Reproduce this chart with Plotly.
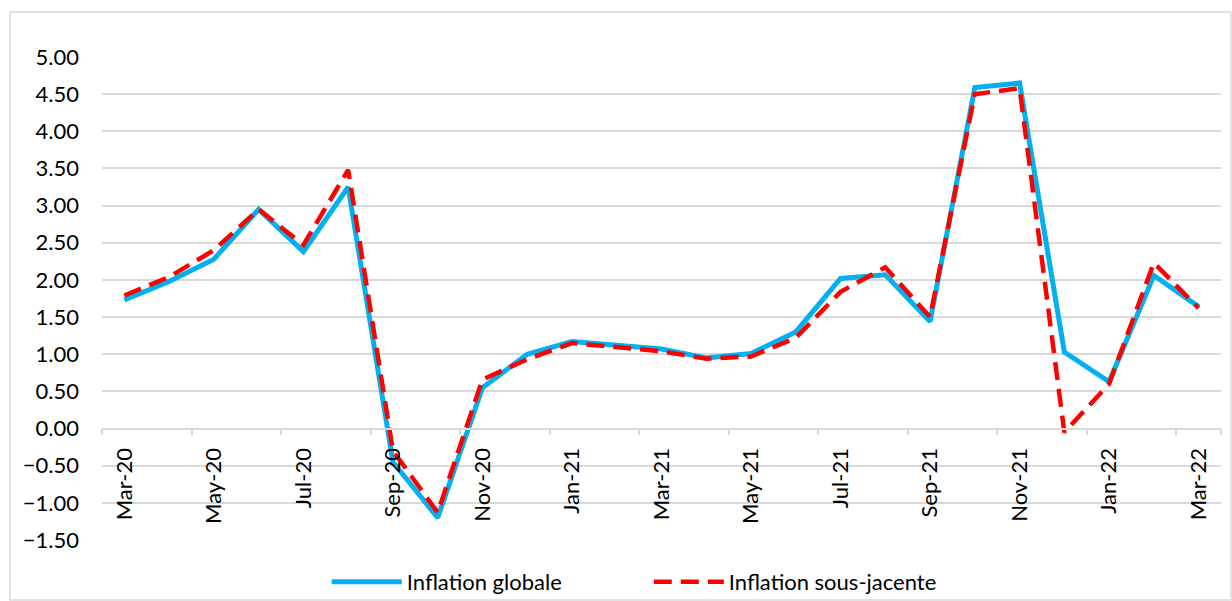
import plotly.graph_objects as go

months = ["Mar-20", "Apr-20", "May-20", "Jun-20", "Jul-20", "Aug-20", "Sep-20", "Oct-20",
          "Nov-20", "Dec-20", "Jan-21", "Feb-21", "Mar-21", "Apr-21", "May-21", "Jun-21",
          "Jul-21", "Aug-21", "Sep-21", "Oct-21", "Nov-21", "Dec-21", "Jan-22", "Feb-22", "Mar-22"]

inflation_globale = [1.73, 1.98, 2.28, 2.95, 2.38, 3.25, -0.45, -1.20, 0.55, 1.00, 1.17, 1.12,
                     1.07, 0.95, 1.01, 1.30, 2.02, 2.07, 1.44, 4.59, 4.65, 1.03, 0.63, 2.06, 1.64]

inflation_sous_jacente = [1.79, 2.04, 2.40, 2.95, 2.47, 3.48, -0.30, -1.13, 0.66, 0.93, 1.15, 1.09,
                          1.04, 0.94, 0.97, 1.22, 1.84, 2.17, 1.50, 4.50, 4.58, -0.05, 0.60, 2.23, 1.62]

y_ticks = [-1.5, -1.0, -0.5, 0.0, 0.5, 1.0, 1.5, 2.0, 2.5, 3.0, 3.5, 4.0, 4.5, 5.0]
x_ticks = months[::2]

FONT = "Lato, Carlito, Calibri, sans-serif"

fig = go.Figure()
fig.add_trace(go.Scatter(
    x=months, y=inflation_globale, mode="lines", name="Inflation globale",
    line=dict(color="#00B0F0", width=5)))
fig.add_trace(go.Scatter(
    x=months, y=inflation_sous_jacente, mode="lines", name="Inflation sous-jacente",
    line=dict(color="#FF0000", width=4.5, dash="18px,9px")))

fig.update_layout(
    width=1232, height=601,
    margin=dict(l=102, r=11, t=57, b=61, autoexpand=False),
    paper_bgcolor="white", plot_bgcolor="white",
    font=dict(family=FONT, size=22, color="#000000"),
    showlegend=True,
    legend=dict(orientation="h", x=0.2009, xanchor="left", y=-0.087, yanchor="middle",
                itemwidth=70, entrywidth=237, font=dict(size=22), bgcolor="rgba(0,0,0,0)"),
    xaxis=dict(
        type="category", categoryorder="array", categoryarray=months,
        range=[-0.5, len(months) - 0.5],
        tickmode="array", tickvals=x_ticks, ticktext=x_ticks,
        tickangle=-90, tickson="boundaries",
        ticks="outside", ticklen=6, tickwidth=1.5, tickcolor="#D9D9D9",
        showgrid=False, showline=True, linecolor="#D9D9D9", linewidth=1.5,
        anchor="free", position=1.5 / 6.5, ticklabelstandoff=10, automargin=False,
        zeroline=False, tickfont=dict(size=22)),
    yaxis=dict(
        range=[-1.5, 5.0], tickmode="array", tickvals=y_ticks,
        tickformat=".2f", showgrid=True, gridcolor="#D9D9D9", gridwidth=1.5,
        zeroline=False, showline=False, ticks="", ticklabelstandoff=22, automargin=False,
        tickfont=dict(size=22)),
    shapes=[dict(type="rect", xref="paper", yref="paper",
                 x0=(10 - 102) / 1119, x1=(1231 - 102) / 1119,
                 y0=(540 - 600) / 483, y1=(540 - 12) / 483,
                 line=dict(color="#D9D9D9", width=1.5), fillcolor="rgba(0,0,0,0)", layer="below")],
)

fig.write_html("out.html", config={"displayModeBar": False},
               post_script="document.body.style.margin='0px';document.body.style.overflow='hidden';")
